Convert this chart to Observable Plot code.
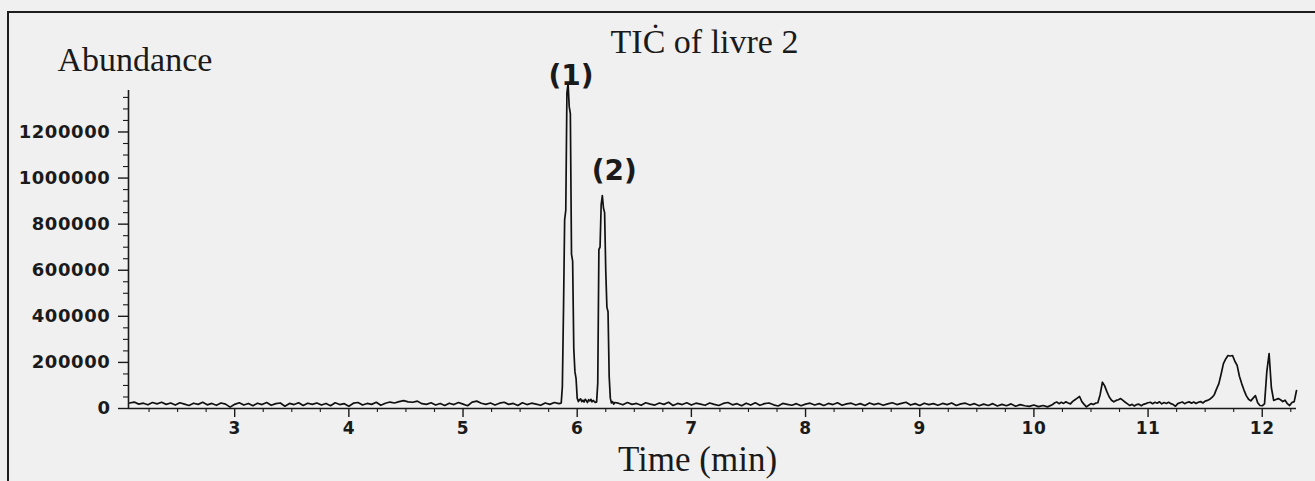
<!DOCTYPE html>
<html>
<head>
<meta charset="utf-8">
<script src="https://cdn.jsdelivr.net/npm/d3@7"></script>
<script src="https://cdn.jsdelivr.net/npm/@observablehq/plot@0.6"></script>
<style>
  html, body { margin: 0; padding: 0; background: #f0f0f0; overflow: hidden; }
  #wrap { position: relative; width: 1315px; height: 481px; }
  #wrap svg { position: absolute; left: 0; top: 0; }
  #border { position: absolute; left: 7px; top: 11px; right: -20px; bottom: -20px;
            border-top: 2px solid #1e1e1e; border-left: 2px solid #1e1e1e; pointer-events: none; }
  #wrap svg g[aria-label="y-axis tick label"] { font-family: "DejaVu Sans" !important; font-weight: bold !important; font-size: 18px !important; letter-spacing: 0.6px; }
  #wrap svg g[aria-label="x-axis tick label"] { font-family: "DejaVu Sans" !important; font-weight: bold !important; font-size: 17px !important; letter-spacing: 0.6px; }
</style>
</head>
<body>
<div id="wrap"><div id="border"></div></div>
<script>
// ---- Data (abundance in thousands of counts, per scan segment) ----
const segAStart = 2.08, segAStep = 0.04;
const segAValues = [
  24, 28, 19, 23, 16, 26, 20, 27, 18, 24,
  15, 25, 19, 13, 23, 18, 27, 16, 22, 14,
  24, 19, 6, 18, 25, 15, 22, 12, 23, 17,
  26, 14, 21, 24, 10, 22, 17, 25, 13, 23,
  18, 24, 15, 22, 12, 25, 17, 21, 10, 23,
  26, 15, 22, 18, 27, 14, 23, 28, 24, 30,
  34, 29, 27, 32, 21, 18, 25, 15, 22, 13,
  23, 17, 26, 19, 12, 28, 32, 23, 18, 24,
  15, 23, 27, 18, 22, 13, 25, 17, 23, 19,
  14, 24, 18, 26, 21
];
const segBStart = 5.85, segBStep = 0.01;
const segBValues = [
  22, 24, 95, 430, 820, 860, 1370, 1410, 1310, 1280,
  670, 640, 260, 160, 130, 45, 30, 38, 42, 30,
  36, 28, 40, 34, 26, 38, 33, 40, 29, 35,
  30, 26, 28, 110, 690, 700, 885, 924, 870, 850,
  600, 440, 420, 140, 45, 24, 30, 19, 26
];
const segCStart = 6.36, segCStep = 0.04;
const segCValues = [
  23, 16, 26, 18, 22, 14, 25, 19, 15, 24,
  18, 27, 13, 22, 17, 25, 15, 23, 19, 14,
  24, 18, 13, 22, 26, 16, 21, 12, 23, 15,
  25, 14, 21, 24, 16, 11, 22, 18, 14, 21,
  12, 19, 23, 15, 21, 13, 22, 17, 25, 14,
  20, 23, 15, 21, 13, 24, 17, 22, 14, 20,
  25, 17, 22, 27, 15, 21, 13, 23, 17, 21,
  14, 22, 17, 24, 13, 20, 23, 15, 21, 12,
  19, 13, 21, 11, 18, 12, 20, 10, 17, 12,
  9, 15, 8, 13, 7, 16
];
const segDStart = 10.18, segDStep = 0.02;
const segDValues = [
  24, 28, 21, 27, 22, 29, 24, 20, 31, 38,
  45, 52, 30, 18, 7, 14, 21, 17, 23, 25,
  60, 114, 98, 72, 50, 36, 29, 35, 38, 43,
  35, 27, 20, 13, 18, 11, 17, 19, 12, 18,
  21, 25, 27, 21, 27, 23, 29, 20, 26, 22,
  27, 21, 17, 10, 21, 25, 28, 21, 26, 29,
  23, 28, 22, 27, 30, 24, 32, 35, 40, 48,
  60, 85, 108, 150, 195, 215, 230, 228, 230, 205,
  187, 140, 108, 80, 56, 40, 33, 45, 56, 25,
  13, 12, 20, 160, 238, 90, 35, 39, 43, 38,
  30, 36, 21, 13, 26, 30, 78
];

const xDomain = [2.07, 12.3];
const yDomain = [0, 1380000];
const xMajorTicks = [3, 4, 5, 6, 7, 8, 9, 10, 11, 12];
const yMajorTicks = [0, 200000, 400000, 600000, 800000, 1000000, 1200000];
const peakTimes = [5.92, 6.22];
const peakValues = [1410000, 924000];
const peakLabels = ["(1)", "(2)"];
const titleText = "TIĊ of livre 2";
const yLabel = "Abundance";
const xLabel = "Time (min)";

// ---- Build table ----
const segments = [
  {start: segAStart, step: segAStep, values: segAValues},
  {start: segBStart, step: segBStep, values: segBValues},
  {start: segCStart, step: segCStep, values: segCValues},
  {start: segDStart, step: segDStep, values: segDValues}
];
const table = [];
for (const s of segments) s.values.forEach((v, i) => table.push({t: s.start + i * s.step, v: v * 1000}));

const xMinorTicks = d3.range(2.25, 12.3, 0.25).filter(d => Math.abs(d - Math.round(d)) > 1e-6);
const yMinorTicks = d3.range(50000, 1380000, 50000).filter(d => d % 200000 !== 0);

const ink = "#1a1a1a";
const tickFont = "DejaVu Sans";
const serif = "Liberation Serif";

const chart = Plot.plot({
  width: 1315,
  height: 481,
  marginLeft: 128,
  marginRight: 19,
  marginTop: 90,
  marginBottom: 73,
  x: {domain: xDomain},
  y: {domain: yDomain},
  style: {background: "transparent", color: ink, fontFamily: "DejaVu Sans"},
  marks: [
    Plot.ruleX([xDomain[0]], {stroke: ink, strokeWidth: 1.6}),
    Plot.ruleY([0], {stroke: ink, strokeWidth: 1.6}),
    Plot.axisY({ticks: yMajorTicks, tickSize: 10, tickPadding: 8, tickFormat: "d", label: null,
      fontSize: 18, fontWeight: "bold", fontFamily: tickFont, stroke: ink, fill: ink, strokeWidth: 1.4}),
    Plot.axisY({ticks: yMinorTicks, tickSize: 5, tickFormat: () => "", label: null, stroke: ink, strokeWidth: 1.1}),
    Plot.axisX({ticks: xMajorTicks, tickSize: 9, tickPadding: 4, tickFormat: "d", label: null,
      fontSize: 17, fontWeight: "bold", fontFamily: tickFont, stroke: ink, fill: ink, strokeWidth: 1.4}),
    Plot.axisX({ticks: xMinorTicks, tickSize: 4, tickFormat: () => "", label: null, stroke: ink, strokeWidth: 1.1}),
    Plot.line(table, {x: "t", y: "v", stroke: "#111111", strokeWidth: 1.7}),
    Plot.text([peakLabels[0]], {x: [peakTimes[0]], y: [peakValues[0]], dx: 3, dy: -8, lineAnchor: "middle",
      fontSize: 28, fontWeight: "bold", fontFamily: tickFont, fill: ink}),
    Plot.text([peakLabels[1]], {x: [peakTimes[1]], y: [peakValues[1]], dx: 12, dy: -25, lineAnchor: "middle",
      fontSize: 28, fontWeight: "bold", fontFamily: tickFont, fill: ink}),
    Plot.text([titleText], {frameAnchor: "top", dx: -8, dy: -38, lineAnchor: "bottom", textAnchor: "middle",
      fontSize: 34, fontWeight: "normal", fontFamily: serif, fill: ink}),
    Plot.text([yLabel], {frameAnchor: "top-left", dx: -71, dy: -20, lineAnchor: "bottom", textAnchor: "start",
      fontSize: 34, fontWeight: "normal", fontFamily: serif, fill: ink}),
    Plot.text([xLabel], {frameAnchor: "bottom", dx: -15, dy: 62, lineAnchor: "bottom", textAnchor: "middle",
      fontSize: 35, fontWeight: "normal", fontFamily: serif, fill: ink})
  ]
});
document.getElementById("wrap").appendChild(chart);
</script>
</body>
</html>
